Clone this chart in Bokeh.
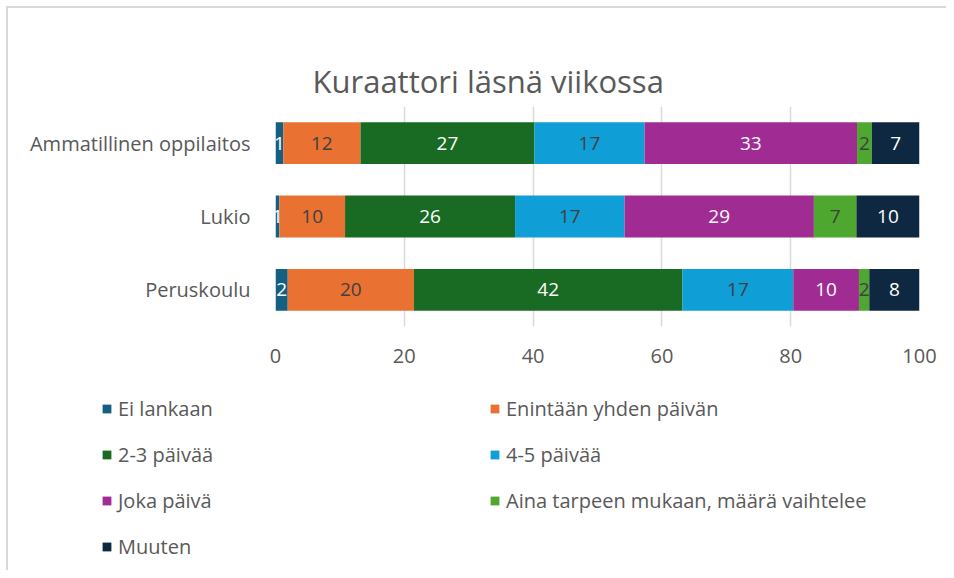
from bokeh.plotting import figure
from bokeh.models import (ColumnDataSource, FactorRange, Range1d, Legend, LegendItem,
                          LabelSet, Title)
from bokeh.core.properties import value
from bokeh.embed import file_html
from bokeh.resources import INLINE

# ---- data ----
title_text = "Kuraattori läsnä viikossa"
categories = ["Ammatillinen oppilaitos", "Lukio", "Peruskoulu"]
series_names = ["Ei lankaan", "Enintään yhden päivän", "2-3 päivää", "4-5 päivää",
                "Joka päivä", "Aina tarpeen mukaan, määrä vaihtelee", "Muuten"]
ei_lankaan = [1.2, 0.6, 1.9]
enintaan_yhden = [12.0, 10.2, 19.6]
paivaa_2_3 = [27.0, 26.4, 41.7]
paivaa_4_5 = [17.1, 17.0, 17.2]
joka_paiva = [33.0, 29.4, 10.2]
aina_tarpeen = [2.3, 6.6, 1.6]
muuten = [7.4, 9.8, 7.8]
x_ticks = [0, 20, 40, 60, 80, 100]

series_values = [ei_lankaan, enintaan_yhden, paivaa_2_3, paivaa_4_5,
                 joka_paiva, aina_tarpeen, muuten]
colors = ["#156082", "#E97132", "#196B24", "#0F9ED5", "#A02B93", "#4EA72E", "#0E2841"]
label_colors = ["white", "#404040", "white", "#404040", "white", "#404040", "white"]

FONT = "Open Sans"
GREY = "#595959"
BORDER = "2px solid #d9d9d9"

keys = [f"s{i}" for i in range(len(series_names))]
data = {"cat": categories}
for k, vals in zip(keys, series_values):
    data[k] = vals
source = ColumnDataSource(data)

# ---------------- main chart ----------------
p = figure(width=940, height=380,
           y_range=FactorRange(*reversed(categories)),
           x_range=Range1d(0, 100),
           output_backend="svg", toolbar_location=None,
           min_border_left=267, min_border_right=29,
           min_border_top=98, min_border_bottom=62,
           styles={"margin-left": "6px", "margin-top": "6px",
                   "border-top": BORDER, "border-left": BORDER})
p.outline_line_color = None

renderers = p.hbar_stack(keys, y="cat", height=0.57, color=colors, source=source,
                         line_color=None)

# data labels
lx, ly, lt, lc = [], [], [], []
for ci, cat in enumerate(categories):
    cum = 0.0
    for si, vals in enumerate(series_values):
        v = vals[ci]
        lx.append(cum + v / 2)
        ly.append(cat)
        lt.append(f"{v:.0f}")
        lc.append(label_colors[si])
        cum += v
lab_src = ColumnDataSource(dict(x=lx, y=ly, t=lt, c=lc))
p.add_layout(LabelSet(x="x", y="y", text="t", source=lab_src, text_color="c",
                      text_align="center", text_baseline="middle",
                      text_font_size="19px", text_font=value(FONT)))

# axes
p.xaxis.ticker = x_ticks
p.xaxis.axis_line_color = None
p.xaxis.major_tick_line_color = None
p.xaxis.minor_tick_line_color = None
p.xaxis.major_label_standoff = 16
p.xaxis.major_label_text_font_size = "20px"
p.xaxis.major_label_text_color = GREY
p.xaxis.major_label_text_font = FONT

p.yaxis.axis_line_color = None
p.yaxis.major_tick_line_color = None
p.yaxis.minor_tick_line_color = None
p.yaxis.major_label_standoff = 19
p.yaxis.major_label_text_font_size = "20px"
p.yaxis.major_label_text_color = GREY
p.yaxis.major_label_text_font = FONT

p.ygrid.grid_line_color = None
p.xgrid.grid_line_color = "#d9d9d9"
p.xgrid.grid_line_width = 1.5

# real title (outermost) and an invisible spacer between it and the plot area
p.title.text = title_text
p.title.align = "left"
p.title.offset = 37
p.title.standoff = 10
p.title.text_font_size = "31px"
p.title.text_font = FONT
p.title.text_font_style = "normal"
p.title.text_color = GREY
p.add_layout(Title(text=".", text_alpha=0, text_font_size="16px", standoff=6), "above")

# ---------------- legend panel ----------------
lg = figure(width=940, height=184, output_backend="svg", toolbar_location=None,
            x_axis_location=None, y_axis_location=None,
            min_border_left=0, min_border_right=0, min_border_top=0, min_border_bottom=0,
            x_range=Range1d(200, 300), y_range=FactorRange(*categories),
            styles={"margin-left": "6px", "border-left": BORDER})
lg.outline_line_color = None
lg.xgrid.grid_line_color = None
lg.ygrid.grid_line_color = None
lg_renderers = lg.hbar_stack(keys, y="cat", height=0, color=colors, source=source,
                             line_color=None)

# items ordered column-major so that the legend reads row by row
order = [0, 2, 4, 6, 1, 3, 5]
items = [LegendItem(label=series_names[i], renderers=[lg_renderers[i]]) for i in order]
legend = Legend(items=items, location=(93, 10), ncols=2, orientation="vertical",
                glyph_width=11, glyph_height=11, label_standoff=6, label_width=352,
                label_height=20, spacing=19, padding=0, margin=0,
                background_fill_alpha=0, border_line_color=None,
                label_text_font_size="20px", label_text_color=GREY, label_text_font=FONT)
lg.add_layout(legend, "center")

open("out.html", "w").write(file_html([p, lg], INLINE))
